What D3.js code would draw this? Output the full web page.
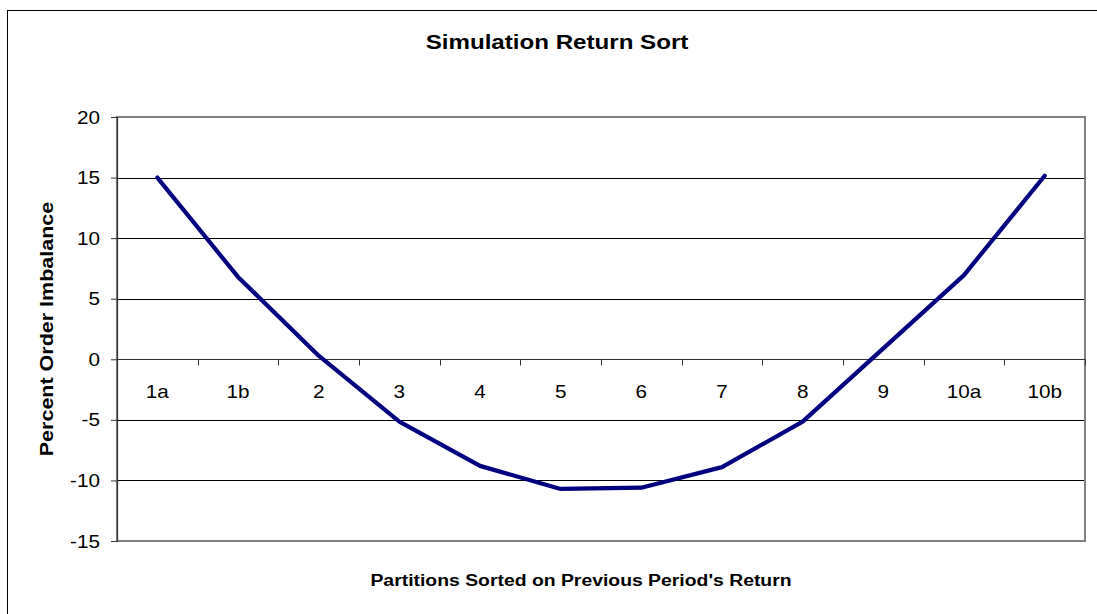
<!DOCTYPE html>
<html>
<head>
<meta charset="utf-8">
<script src="https://cdn.jsdelivr.net/npm/d3@7"></script>
<style>
  html, body { margin: 0; padding: 0; background: #fff; }
  svg { display: block; }
  text { font-family: Arial, "Liberation Sans", sans-serif; fill: #000; }
</style>
</head>
<body>
<svg id="chart" width="1097" height="614"></svg>
<script>
const categories = ["1a", "1b", "2", "3", "4", "5", "6", "7", "8", "9", "10a", "10b"];
const values = [15.0, 6.8, 0.3, -5.15, -8.8, -10.7, -10.6, -8.9, -5.15, 0.9, 6.95, 15.15];
const yTicks = [-15, -10, -5, 0, 5, 10, 15, 20];
const titleText = "Simulation Return Sort";
const xTitleText = "Partitions Sorted on Previous Period's Return";
const yTitleText = "Percent Order Imbalance";

const W = 1097, H = 614;
const plot = { left: 117, top: 117, right: 1085, bottom: 541 };
const STRETCH = 1.15;

const svg = d3.select("#chart");

// outer chart border (extends beyond right/bottom)
svg.append("rect")
  .attr("x", 7.5).attr("y", 10.5)
  .attr("width", 1300).attr("height", 800)
  .attr("fill", "#fff").attr("stroke", "#000").attr("stroke-width", 1);

const x = d3.scaleBand().domain(categories).range([plot.left, plot.right]).padding(0);
const y = d3.scaleLinear().domain([-15, 20]).range([plot.bottom, plot.top]);

// gridlines
svg.append("g")
  .selectAll("line")
  .data(yTicks.filter(d => d !== 0 && d !== 20 && d !== -15))
  .join("line")
  .attr("x1", plot.left).attr("x2", plot.right)
  .attr("y1", d => Math.round(y(d)) + 0.5).attr("y2", d => Math.round(y(d)) + 0.5)
  .attr("stroke", "#000").attr("stroke-width", 1);

// plot border (gray)
svg.append("rect")
  .attr("x", plot.left).attr("y", plot.top)
  .attr("width", plot.right - plot.left).attr("height", plot.bottom - plot.top)
  .attr("fill", "none").attr("stroke", "#808080").attr("stroke-width", 2);

// y axis
const yAxis = d3.axisLeft(y).tickValues(yTicks).tickSize(6).tickFormat("");
const yg = svg.append("g").attr("transform", `translate(${plot.left},0)`).call(yAxis);
yg.select(".domain").attr("stroke", "#333").attr("stroke-width", 1.2);
yg.selectAll(".tick line").attr("stroke", "#333");

// y tick labels
svg.append("g").selectAll("text")
  .data(yTicks)
  .join("text")
  .attr("transform", d => `translate(100,${y(d) + 6.5}) scale(${STRETCH},1)`)
  .attr("text-anchor", "end")
  .attr("font-size", 18)
  .text(d => String(d));

// x axis at y=0 with ticks at category boundaries
const y0 = Math.round(y(0)) + 0.5;
const xg = svg.append("g");
xg.append("line")
  .attr("x1", plot.left).attr("x2", plot.right)
  .attr("y1", y0).attr("y2", y0)
  .attr("stroke", "#333").attr("stroke-width", 1.2);
const boundaries = categories.map(c => x(c)).concat([x(categories[categories.length - 1]) + x.bandwidth()]);
xg.selectAll("line.tk")
  .data(boundaries)
  .join("line")
  .attr("class", "tk")
  .attr("x1", d => Math.round(d) + 0.5).attr("x2", d => Math.round(d) + 0.5)
  .attr("y1", y0).attr("y2", y0 + 6)
  .attr("stroke", "#333").attr("stroke-width", 1);

// x tick labels
svg.append("g").selectAll("text")
  .data(categories)
  .join("text")
  .attr("transform", d => `translate(${x(d) + x.bandwidth() / 2},${y(0) + 39}) scale(${STRETCH},1)`)
  .attr("text-anchor", "middle")
  .attr("font-size", 18)
  .text(d => d);

// line series
const line = d3.line()
  .x((d, i) => x(categories[i]) + x.bandwidth() / 2)
  .y(d => y(d));
svg.append("path")
  .datum(values)
  .attr("d", line)
  .attr("fill", "none")
  .attr("stroke", "#000080")
  .attr("stroke-width", 4.2)
  .attr("stroke-linejoin", "round")
  .attr("stroke-linecap", "round");

// titles
svg.append("text")
  .attr("transform", `translate(557,49) scale(${STRETCH},1)`)
  .attr("text-anchor", "middle")
  .attr("font-size", 21).attr("font-weight", "bold")
  .text(titleText);

svg.append("text")
  .attr("transform", `translate(581,586) scale(1.14,1)`)
  .attr("text-anchor", "middle")
  .attr("font-size", 17).attr("font-weight", "bold")
  .text(xTitleText);

svg.append("text")
  .attr("transform", `translate(53,${(plot.top + plot.bottom) / 2}) rotate(-90) scale(${STRETCH},1)`)
  .attr("text-anchor", "middle")
  .attr("font-size", 18.7).attr("font-weight", "bold")
  .text(yTitleText);
</script>
</body>
</html>
